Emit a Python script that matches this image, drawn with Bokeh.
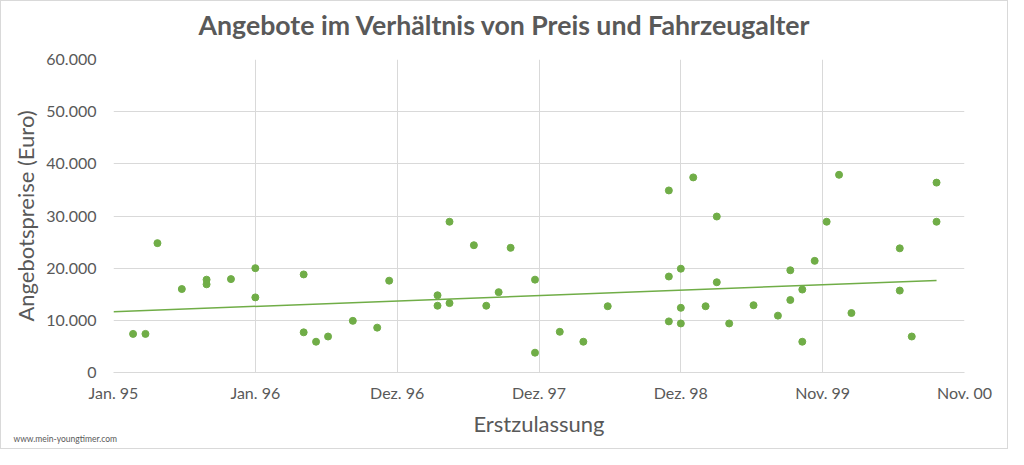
import pandas as pd
from bokeh.plotting import figure
from bokeh.models import Range1d, FixedTicker, Title
from bokeh.embed import file_html
from bokeh.resources import INLINE

# ---- data ----
erstzulassung = [
    "1995-03-01", "1995-04-01", "1995-05-01", "1995-07-01", "1995-09-01", "1995-09-01",
    "1995-11-01", "1996-01-01", "1996-01-01", "1996-05-01", "1996-05-01", "1996-06-01",
    "1996-07-01", "1996-09-01", "1996-11-01", "1996-12-01", "1997-04-01", "1997-04-01",
    "1997-05-01", "1997-05-01", "1997-07-01", "1997-08-01", "1997-09-01", "1997-10-01",
    "1997-12-01", "1997-12-01", "1998-02-01", "1998-04-01", "1998-06-01", "1998-11-01",
    "1998-11-01", "1998-11-01", "1998-12-01", "1998-12-01", "1998-12-01", "1999-01-01",
    "1999-02-01", "1999-03-01", "1999-03-01", "1999-04-01", "1999-06-01", "1999-08-01",
    "1999-09-01", "1999-09-01", "1999-10-01", "1999-10-01", "1999-11-01", "1999-12-01",
    "2000-01-01", "2000-02-01", "2000-06-01", "2000-06-01", "2000-07-01", "2000-09-01",
    "2000-09-01",
]
preise = [
    7400, 7400, 24800, 16000, 17800, 16900,
    17900, 20000, 14400, 18800, 7700, 5900,
    6900, 9900, 8600, 17600, 14800, 12800,
    28900, 13300, 24400, 12800, 15400, 23900,
    17800, 3800, 7800, 5900, 12700, 34900,
    18400, 9800, 19900, 12400, 9400, 37400,
    12700, 29900, 17300, 9400, 12900, 10900,
    19600, 13900, 15900, 5900, 21400, 28900,
    37900, 11400, 23800, 15700, 6900, 36400,
    28900,
]
# linear trend line as drawn in the reference (start / end)
trend_dates = ["1995-01-11", "2000-09-01"]
trend_values = [11650, 17650]

y_ticks = [0, 10000, 20000, 30000, 40000, 50000, 60000]
x_tick_labels = ["Jan. 95", "Jan. 96", "Dez. 96", "Dez. 97", "Dez. 98", "Nov. 99", "Nov. 00"]
x_axis_start = "1995-01-11"
x_major_unit_days = 355

title_text = "Angebote im Verhältnis von Preis und Fahrzeugalter"
x_title = "Erstzulassung"
y_title = "Angebotspreise (Euro)"
watermark = "www.mein-youngtimer.com"

# ---- derived ----
origin = pd.Timestamp("1995-01-01")
def to_days(dates):
    return list((pd.to_datetime(dates) - origin).days.astype(float))

x_days = to_days(erstzulassung)
trend_x = to_days(trend_dates)
x0 = (pd.Timestamp(x_axis_start) - origin).days
x_ticks = [x0 + i * x_major_unit_days for i in range(len(x_tick_labels))]

GREEN = "#70AD47"
TXT = "#595959"
GRID = "#D9D9D9"
FONT = "Lato"

p = figure(
    width=1008, height=449, output_backend="svg", toolbar_location=None,
    x_range=Range1d(x_ticks[0], x_ticks[-1]), y_range=Range1d(0, 60000),
    min_border_left=112, min_border_right=45, min_border_top=58, min_border_bottom=78,
)
p.outline_line_color = None
p.background_fill_color = "white"
p.border_fill_color = "white"
p.styles = {"border": "1px solid #D9D9D9"}

p.line(trend_x, trend_values, line_color=GREEN, line_width=1.5)
p.scatter(x_days, preise, size=7, fill_color=GREEN, line_color=GREEN)

# title (a tiny blank spacer sits between title and plot area)
p.title.text = title_text
p.title.align = "left"
p.title.offset = 85
p.title.standoff = 0
p.title.text_font = FONT
p.title.text_font_size = "26.7px"
p.title.text_font_style = "bold"
p.title.text_color = TXT
p.add_layout(Title(text=" ", text_font_size="1px", standoff=16, text_color="white"), "above")

# axes
p.xaxis.ticker = FixedTicker(ticks=x_ticks)
p.xaxis.major_label_overrides = {t: lab for t, lab in zip(x_ticks, x_tick_labels)}
p.yaxis.ticker = FixedTicker(ticks=y_ticks)
p.yaxis.major_label_overrides = {v: (f"{v:,}".replace(",", ".")) for v in y_ticks}

for ax in (p.xaxis[0], p.yaxis[0]):
    ax.major_tick_line_color = None
    ax.minor_tick_line_color = None
    ax.major_tick_out = 0
    ax.major_tick_in = 0
    ax.minor_tick_out = 0
    ax.minor_tick_in = 0
    ax.major_label_text_font = FONT
    ax.major_label_text_font_size = "16px"
    ax.major_label_text_color = TXT
    ax.axis_label_text_font = FONT
    ax.axis_label_text_font_size = "22px"
    ax.axis_label_text_font_style = "normal"
    ax.axis_label_text_color = TXT

p.xaxis.axis_line_color = GRID
p.yaxis.axis_line_color = None
p.xaxis.axis_label = x_title
p.yaxis.axis_label = y_title
p.xaxis.major_label_standoff = 10
p.yaxis.major_label_standoff = 17
p.xaxis.axis_label_standoff = 5
p.yaxis.axis_label_standoff = 4

p.xgrid.grid_line_color = GRID
p.ygrid.grid_line_color = GRID
p.xgrid.ticker = FixedTicker(ticks=x_ticks)
p.ygrid.ticker = FixedTicker(ticks=y_ticks)

# watermark below the x axis
p.add_layout(Title(text=watermark, align="left", offset=-100, standoff=-12,
                   vertical_align="top",
                   text_font=FONT, text_font_size="8.5px", text_font_style="normal",
                   text_color=TXT), "below")

open("out.html", "w").write(file_html(p, INLINE))
